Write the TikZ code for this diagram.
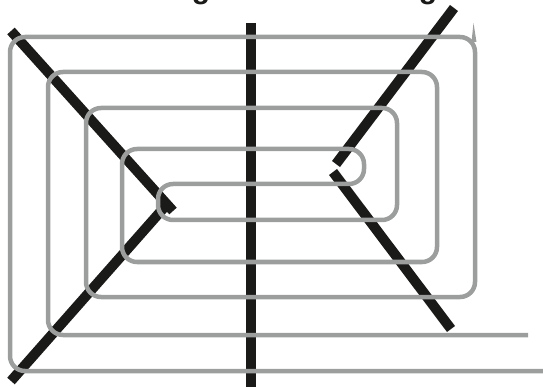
\documentclass[tikz,border=0pt]{standalone}
\usepackage{fontspec}
\setsansfont{Liberation Sans}
\usetikzlibrary{positioning}
\definecolor{spGray}{HTML}{9C9E9E}
\definecolor{spBlack}{HTML}{1A1A18}
\tikzset{
  spiral/.style={draw=spGray, line width=4.5pt, rounded corners=15pt},
  bar/.style={draw=spBlack, line width=10pt},
  capword/.style={font=\sffamily\bfseries\fontsize{30}{36}\selectfont, inner sep=0pt, anchor=base, text=spBlack}
}
\begin{document}
\begin{tikzpicture}[x=1pt, y=-1pt]
  \useasboundingbox (0,0) rectangle (543,387);
  % heading, cut off by the top edge
  \node[capword] (word1) at (201,-1.5) {g};
  \node[capword] (word2) at (428,-1.5) {g};
  % black bars
  \coordinate (midtop) at (251,23);
  \coordinate (midbot) at (251,392);
  \draw[bar] (midtop) -- (midbot);
  \coordinate (ltop) at (11,31);
  \coordinate (ltip1) at (173,211);
  \coordinate (ltip2) at (169,202);
  \coordinate (lbot) at (11,381);
  \draw[bar] (ltop) -- (ltip1);
  \draw[bar] (lbot) -- (ltip2);
  \coordinate (rtop) at (454,8);
  \coordinate (rtip1) at (336,164);
  \coordinate (rtip2) at (333,172);
  \coordinate (rbot) at (451,329);
  \draw[bar] (rtop) -- (rtip1);
  \draw[bar] (rtip2) -- (rbot);
  % grey double spiral
  \draw[spiral] (528,335) -- (48,335) -- (48,72) -- (437,72) -- (437,262)
    -- (122,262) -- (122,149) -- (364,149) -- (364,184) -- (158,184)
    -- (158,220) -- (397,220) -- (397,108) -- (86,108) -- (86,297)
    -- (475,297) -- (475,37) -- (10,37) -- (10,371) -- (546,371);
  \fill[spGray] (473.5,23) -- (476.5,42) -- (471.5,42) -- cycle;
\end{tikzpicture}
\end{document}
